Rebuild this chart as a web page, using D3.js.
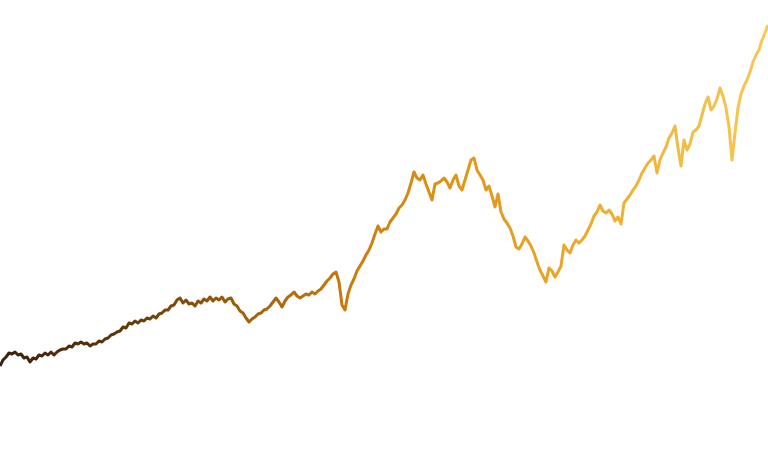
<!DOCTYPE html>
<html><head><meta charset="utf-8">
<script src="https://cdn.jsdelivr.net/npm/d3@7"></script>
<style>html,body{margin:0;padding:0;background:#fff;}svg{display:block;}</style>
</head><body>
<svg id="chart" width="768" height="460"></svg>
<script>
// Index level at evenly spaced points
const levels = [34,40,43,47,46,48,45,46,42,43,38,42,41,45,44,47,45,48,45,48,50,51,51,54,53,57,56,58,56,57,54,56,56,59,58,61,62,65,66,68,69,73,72,77,76,79,77,80,79,82,81,84,82,86,87,90,90,94,95,100,102,97,100,96,97,94,99,97,101,99,103,99,102,100,103,98,101,102,96,94,89,87,82,78,81,83,86,87,90,91,94,98,102,98,93,99,103,105,108,104,102,104,106,105,108,106,109,111,115,119,122,126,128,118,95,90,106,115,121,129,134,139,145,150,157,166,174,168,171,171,178,182,186,192,195,200,207,217,228,222,220,225,216,208,200,216,217,219,222,218,212,220,225,214,210,220,230,240,242,230,225,220,210,214,204,193,206,188,181,177,172,164,153,151,156,163,159,154,147,138,130,124,118,132,129,123,128,134,155,150,147,155,160,157,160,164,170,176,184,188,195,189,187,190,186,179,183,176,197,201,205,210,214,220,227,232,237,240,244,227,240,247,253,262,267,274,252,234,260,250,256,268,270,274,285,296,303,290,294,301,312,304,292,273,240,267,292,306,314,320,328,338,345,350,360,367,375];
const colorStops = ["#3c220c","#5e360a","#a2600a","#c97a0c","#e19618","#eaa92a","#f3bd45","#f8c855"];
const stopOffsets = [0, 0.15, 0.32, 0.45, 0.6, 0.75, 0.9, 1];

const W = 768, H = 460;
const svg = d3.select("#chart");
const x = d3.scaleLinear().domain([0, levels.length - 1]).range([0, W]);
const y = d3.scaleLinear().domain([34, 375]).range([366, 25]);

const grad = svg.append("defs").append("linearGradient")
  .attr("id", "lg").attr("gradientUnits", "userSpaceOnUse")
  .attr("x1", 0).attr("x2", W).attr("y1", 0).attr("y2", 0);
grad.selectAll("stop").data(colorStops).join("stop")
  .attr("offset", (d, i) => stopOffsets[i])
  .attr("stop-color", d => d);

svg.append("path")
  .datum(levels)
  .attr("fill", "none")
  .attr("stroke", "url(#lg)")
  .attr("stroke-width", 3)
  .attr("stroke-linejoin", "round")
  .attr("d", d3.line().x((d, i) => x(i)).y(d => y(d)));
</script>
</body></html>
